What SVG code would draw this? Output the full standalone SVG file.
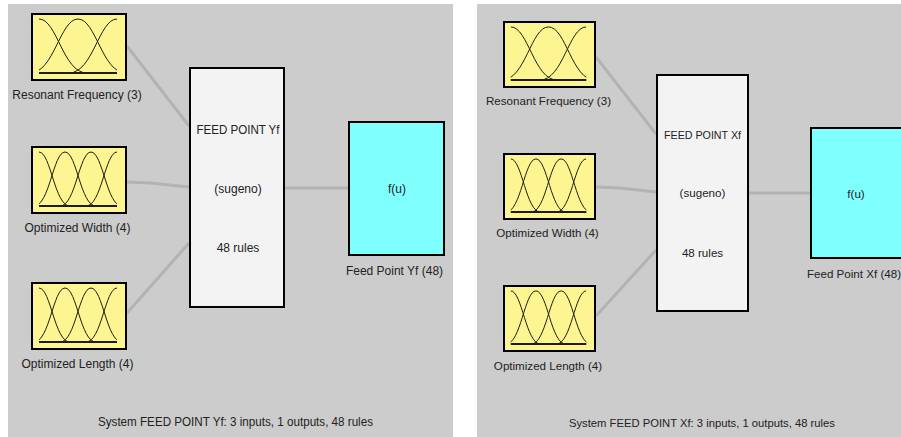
<svg xmlns="http://www.w3.org/2000/svg" xmlns:xlink="http://www.w3.org/1999/xlink" width="901" height="437" viewBox="0 0 901 437">
  <style>
    .panel { fill: #cccccc; }
    .link { stroke: #b3b3b3; stroke-width: 3; fill: none; }
    .inbox { fill: #fdf591; stroke: #000; stroke-width: 2; }
    .rulebox { fill: #f3f3f3; stroke: #000; stroke-width: 2; }
    .outbox { fill: #80ffff; stroke: #000; stroke-width: 2; }
    .mf { fill: none; stroke: #1e1e10; stroke-width: 1; vector-effect: non-scaling-stroke; }
    .base { fill: none; stroke: #1e1e10; stroke-width: 2; vector-effect: non-scaling-stroke; }
    text { font-family: "Liberation Sans", Arial, sans-serif; fill: #222; text-anchor: middle; }
    .l { font-size: 12px; }
    .r { font-size: 11.6px; }
  </style>
  <defs>
    <clipPath id="mfclip">
      <rect x="8" y="0" width="78" height="68"/>
    </clipPath>
    <!-- three gaussian membership functions -->
    <symbol id="mf3" viewBox="0 0 96 68" preserveAspectRatio="none">
      <g clip-path="url(#mfclip)">
        <path class="mf" d="M8,6 C26,6 32,60 56,60"/>
        <path class="mf" d="M-1,60 C23,60 29,6 47,6 C65,6 71,60 95,60"/>
        <path class="mf" d="M38,60 C62,60 68,6 86,6"/>
      </g>
      <path class="base" d="M8,60 H86"/>
    </symbol>
    <!-- four gaussian membership functions -->
    <symbol id="mf4" viewBox="0 0 96 68" preserveAspectRatio="none">
      <g clip-path="url(#mfclip)">
        <path class="mf" d="M8,6 C19.8,6 23.5,60 39,60"/>
        <path class="mf" d="M3,60 C18.5,60 22.2,6 34,6 C45.8,6 49.5,60 65,60"/>
        <path class="mf" d="M29,60 C44.5,60 48.2,6 60,6 C71.8,6 75.5,60 91,60"/>
        <path class="mf" d="M55,60 C70.5,60 74.2,6 86,6"/>
      </g>
      <path class="base" d="M8,60 H86"/>
    </symbol>
  </defs>

  <rect width="901" height="437" fill="#ffffff"/>
  <rect class="panel" x="8" y="4" width="445" height="433"/>
  <rect class="panel" x="477" y="4" width="424" height="433"/>

  <!-- connectors -->
  <g id="connectors">
    <path class="link" d="M127,46 L189,126"/>
    <path class="link" d="M127,182 L150,183 L189,187"/>
    <path class="link" d="M127,313 L189,243"/>
    <path class="link" d="M285,188 L348,188"/>
    <path class="link" d="M596,57 L656,134"/>
    <path class="link" d="M596,187 L620,188 L656,192"/>
    <path class="link" d="M596,316 L656,250"/>
    <path class="link" d="M749,193 L810,193"/>
  </g>

  <!-- Yf system -->
  <g id="yf-resonant-frequency">
    <rect class="inbox" x="32" y="14" width="94" height="66"/>
    <use xlink:href="#mf3" x="31" y="13" width="96" height="68"/>
    <text class="l" x="77" y="99">Resonant Frequency (3)</text>
  </g>
  <g id="yf-optimized-width">
    <rect class="inbox" x="32" y="147" width="94" height="66"/>
    <use xlink:href="#mf4" x="31" y="146" width="96" height="68"/>
    <text class="l" x="77.5" y="232">Optimized Width (4)</text>
  </g>
  <g id="yf-optimized-length">
    <rect class="inbox" x="32" y="283" width="94" height="66"/>
    <use xlink:href="#mf4" x="31" y="282" width="96" height="68"/>
    <text class="l" x="77.5" y="368">Optimized Length (4)</text>
  </g>
  <g id="yf-rules">
    <rect class="rulebox" x="190" y="68" width="94" height="239"/>
    <text class="l" x="238" y="134" textLength="83" lengthAdjust="spacingAndGlyphs">FEED POINT Yf</text>
    <text class="l" x="238" y="193">(sugeno)</text>
    <text class="l" x="238" y="252">48 rules</text>
  </g>
  <g id="yf-output">
    <rect class="outbox" x="349" y="122" width="95" height="133"/>
    <text class="l" x="397" y="193">f(u)</text>
    <text class="l" x="394.5" y="275">Feed Point Yf (48)</text>
  </g>
  <text class="l" x="235.5" y="426" textLength="275" lengthAdjust="spacingAndGlyphs">System FEED POINT Yf: 3 inputs, 1 outputs, 48 rules</text>

  <!-- Xf system -->
  <g id="xf-resonant-frequency">
    <rect class="inbox" x="504" y="22" width="91" height="65"/>
    <use xlink:href="#mf3" x="503" y="21" width="93" height="67"/>
    <text class="r" x="548.5" y="105">Resonant Frequency (3)</text>
  </g>
  <g id="xf-optimized-width">
    <rect class="inbox" x="504" y="154" width="91" height="65"/>
    <use xlink:href="#mf4" x="503" y="153" width="93" height="67"/>
    <text class="r" x="547.5" y="237">Optimized Width (4)</text>
  </g>
  <g id="xf-optimized-length">
    <rect class="inbox" x="504" y="286" width="91" height="65"/>
    <use xlink:href="#mf4" x="503" y="285" width="93" height="67"/>
    <text class="r" x="548" y="370">Optimized Length (4)</text>
  </g>
  <g id="xf-rules">
    <rect class="rulebox" x="657" y="75" width="91" height="236"/>
    <text class="r" x="702.5" y="139" textLength="77" lengthAdjust="spacingAndGlyphs">FEED POINT Xf</text>
    <text class="r" x="702.5" y="197">(sugeno)</text>
    <text class="r" x="702.5" y="257">48 rules</text>
  </g>
  <g id="xf-output">
    <rect class="outbox" x="811" y="128" width="94" height="130"/>
    <text class="r" x="856" y="198">f(u)</text>
    <text class="r" x="854" y="278">Feed Point Xf (48)</text>
  </g>
  <text class="r" x="702" y="427" textLength="266" lengthAdjust="spacingAndGlyphs">System FEED POINT Xf: 3 inputs, 1 outputs, 48 rules</text>
</svg>
